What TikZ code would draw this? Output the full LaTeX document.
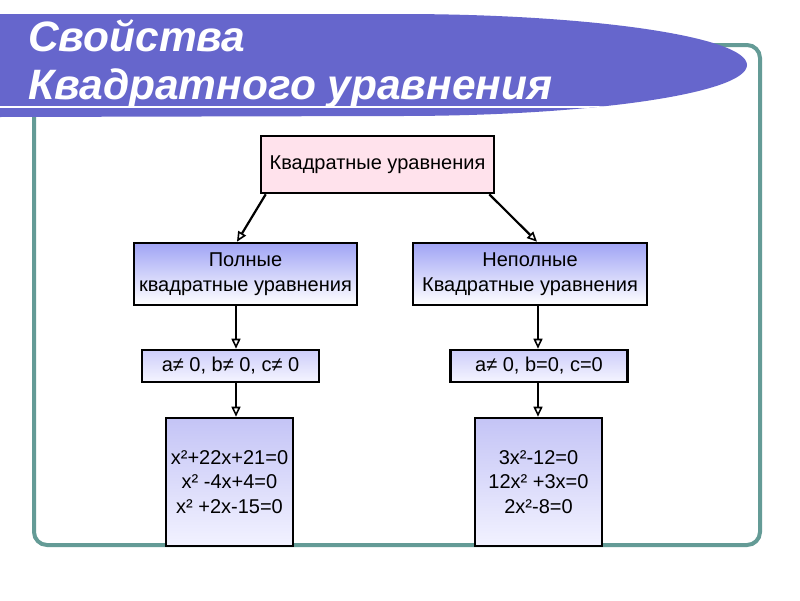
\documentclass[tikz,border=0pt]{standalone}
\usepackage{fontspec}
\setmainfont{Liberation Sans}
\usetikzlibrary{arrows.meta,calc}
\definecolor{banner}{RGB}{102,102,204}
\definecolor{frame}{RGB}{100,155,150}
\definecolor{pinkbox}{RGB}{255,226,236}
\definecolor{bluetop}{RGB}{160,164,245}
\definecolor{condtop}{RGB}{205,205,250}
\definecolor{eqtop}{RGB}{196,196,246}
\tikzset{
  boxbase/.style={draw=black, line width=2.6pt, inner sep=2pt, font=\fontsize{20}{25}\selectfont, align=center},
  topbox/.style={boxbase, fill=pinkbox, minimum width=233pt, minimum height=57pt},
  lvlbox/.style={boxbase, top color=bluetop, bottom color=white, minimum height=62pt},
  condbox/.style={boxbase, top color=condtop, bottom color=white!96!blue, minimum height=32pt, minimum width=177pt},
  eqbox/.style={boxbase, font=\fontsize{20}{24.5}\selectfont, top color=eqtop, bottom color=white!95!blue, minimum width=127pt, minimum height=128pt},
  arr/.style={line width=2.2pt, -{Triangle[open, length=10pt, width=9pt, line width=1.6pt]}},
  titletext/.style={text=white, font=\fontsize{42.5}{50}\selectfont\bfseries\itshape, anchor=base west, inner sep=0pt}
}
\begin{document}
\begin{tikzpicture}[x=1pt,y=-1pt]
\useasboundingbox (0,0) rectangle (800,600);
\fill[white] (0,0) rectangle (800,600);
% frame
\draw[frame, line width=4pt, rounded corners=13pt] (34,45) rectangle (760,545);
% banner
\path[fill=banner] (0,14) -- (400,14) arc[start angle=-90, end angle=90, x radius=347, y radius=51] -- (0,117) -- cycle;
\begin{scope}
\clip (0,14) -- (400,14) arc[start angle=-90, end angle=90, x radius=347, y radius=51] -- (0,117) -- cycle;
\draw[white, line width=2.5pt] (0,107) -- (700,107);
\end{scope}
\node[titletext] (t1) at (28,51) {Свойства};
\node[titletext] (t2) at (28,99) {Квадратного уравнения};
% boxes
\node[topbox] (top) at (377.5,164.5) {Квадратные уравнения};
\node[lvlbox, minimum width=223pt] (l2) at (245.5,274) {Полные\\квадратные уравнения};
\node[lvlbox, minimum width=234pt] (r2) at (530,274) {Неполные\\Квадратные уравнения};
\node[condbox] (l3) at (230.5,366) {a≠ 0, b≠ 0, c≠ 0};
\node[condbox] (r3) at (539,366) {a≠ 0, b=0, c=0};
\node[eqbox] (l4) at (229.5,482) {x²+22x+21=0\\ x² -4x+4=0\\x² +2x-15=0};
\node[eqbox] (r4) at (538.5,482) {3x²-12=0\\12x² +3x=0\\2x²-8=0};
% arrow columns
\coordinate (lx) at (236,0);
\coordinate (rx) at (538,0);
\draw[arr] ($(top.south west)+(6,0)$) -- ($(l2.north -| lx)+(1,0)$);
\draw[arr] ($(top.south east)+(-6,0)$) -- ($(r2.north -| rx)+(-1,0)$);
\draw[arr] (l2.south -| lx) -- (l3.north -| lx);
\draw[arr] (l3.south -| lx) -- (l4.north -| lx);
\draw[arr] (r2.south -| rx) -- (r3.north -| rx);
\draw[arr] (r3.south -| rx) -- (r4.north -| rx);
\end{tikzpicture}
\end{document}
